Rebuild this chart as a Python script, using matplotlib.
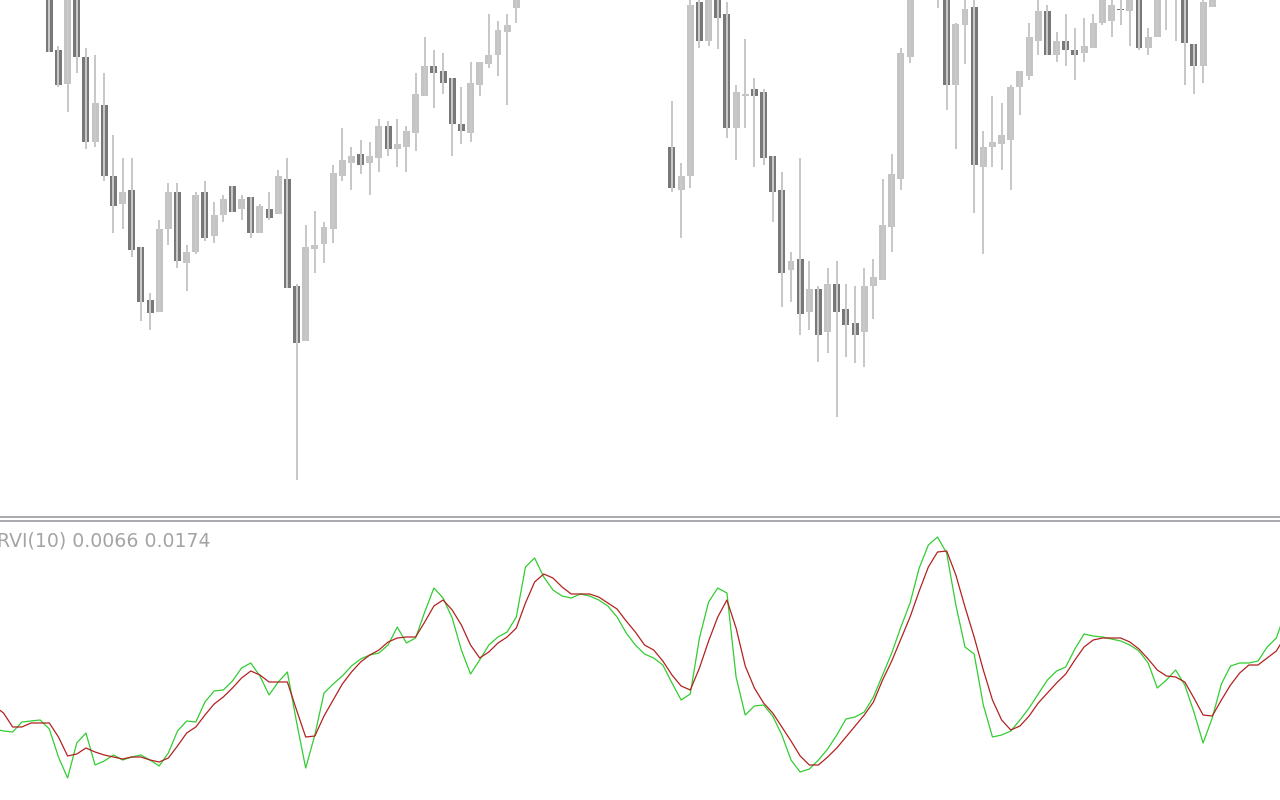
import numpy as np
import matplotlib
matplotlib.use('Agg')
import matplotlib.pyplot as plt
from matplotlib.lines import Line2D

nan = np.nan

# 價格資料 (每根K線: 開/高/低/收), nan = 價格在可視範圍之上
opens = [1.3530, 1.3470, 1.3436, 1.3530, 1.3463, 1.3378, 1.3415, 1.3344, 1.3316, 1.3330,
         1.3273, 1.3220, 1.3208, 1.3291, 1.3328, 1.3257, 1.3268, 1.3328, 1.3284, 1.3305,
         1.3334, 1.3311, 1.3323, 1.3287, 1.3311, 1.3306, 1.3341, 1.3234, 1.3179, 1.3271,
         1.3276, 1.3291, 1.3344, 1.3357, 1.3366, 1.3357, 1.3362, 1.3394, 1.3371, 1.3373,
         1.3387, 1.3424, 1.3454, 1.3449, 1.3442, 1.3396, 1.3387, 1.3435, 1.3456, 1.3465,
         1.3488, 1.3512, nan, nan, nan, nan, nan, nan, nan, nan,
         nan, nan, nan, nan, nan, nan, nan, nan, 1.3373, 1.3330,
         1.3344, 1.3518, 1.3479, 1.3528, 1.3506, 1.3392, 1.3424, 1.3431, 1.3428, 1.3364,
         1.3330, 1.3250, 1.3261, 1.3208, 1.3231, 1.3188, 1.3236, 1.3211, 1.3197, 1.3188,
         1.3234, 1.3240, 1.3293, 1.3341, 1.3463, nan, nan, 1.3532, 1.3528, 1.3435,
         1.3495, 1.3513, 1.3353, 1.3373, 1.3376, 1.3380, 1.3433, 1.3444, 1.3479, 1.3509,
         1.3465, 1.3479, 1.3470, 1.3467, 1.3472, 1.3497, 1.3499, 1.3511, 1.3509, 1.3528,
         1.3472, 1.3483, 1.3532, 1.3534, 1.3528, 1.3476, 1.3454, 1.3513]
highs = [1.3535, 1.3474, 1.3535, 1.3535, 1.3472, 1.3465, 1.3447, 1.3385, 1.3362, 1.3362,
         1.3273, 1.3227, 1.3300, 1.3337, 1.3337, 1.3275, 1.3328, 1.3339, 1.3318, 1.3325,
         1.3334, 1.3325, 1.3323, 1.3316, 1.3328, 1.3350, 1.3362, 1.3236, 1.3295, 1.3309,
         1.3298, 1.3355, 1.3392, 1.3373, 1.3380, 1.3378, 1.3401, 1.3399, 1.3401, 1.3394,
         1.3447, 1.3483, 1.3470, 1.3467, 1.3442, 1.3433, 1.3458, 1.3458, 1.3506, 1.3499,
         1.3506, 1.3535, nan, nan, nan, nan, nan, nan, nan, nan,
         nan, nan, nan, nan, nan, nan, nan, nan, 1.3419, 1.3357,
         1.3525, 1.3525, 1.3532, 1.3532, 1.3518, 1.3435, 1.3481, 1.3442, 1.3431, 1.3364,
         1.3348, 1.3268, 1.3362, 1.3259, 1.3234, 1.3252, 1.3259, 1.3236, 1.3234, 1.3252,
         1.3261, 1.3341, 1.3366, 1.3472, 1.3532, nan, nan, 1.3545, 1.3532, 1.3497,
         1.3525, 1.3523, 1.3389, 1.3424, 1.3417, 1.3435, 1.3449, 1.3497, 1.3523, 1.3515,
         1.3488, 1.3506, 1.3492, 1.3502, 1.3506, 1.3532, 1.3523, 1.3523, 1.3532, 1.3532,
         1.3492, 1.3532, 1.3545, 1.3545, 1.3532, 1.3476, 1.3523, 1.3532]
lows = [1.3468, 1.3433, 1.3408, 1.3447, 1.3371, 1.3373, 1.3339, 1.3287, 1.3291, 1.3263,
        1.3199, 1.3190, 1.3208, 1.3275, 1.3252, 1.3229, 1.3266, 1.3279, 1.3277, 1.3298,
        1.3308, 1.3300, 1.3282, 1.3287, 1.3300, 1.3306, 1.3232, 1.3040, 1.3179, 1.3247,
        1.3257, 1.3277, 1.3339, 1.3330, 1.3346, 1.3325, 1.3348, 1.3364, 1.3353, 1.3348,
        1.3369, 1.3424, 1.3412, 1.3426, 1.3364, 1.3376, 1.3378, 1.3424, 1.3452, 1.3444,
        1.3415, 1.3497, nan, nan, nan, nan, nan, nan, nan, nan,
        nan, nan, nan, nan, nan, nan, nan, nan, 1.3328, 1.3282,
        1.3332, 1.3472, 1.3474, 1.3471, 1.3382, 1.3360, 1.3392, 1.3353, 1.3355, 1.3298,
        1.3213, 1.3218, 1.3185, 1.3190, 1.3158, 1.3167, 1.3103, 1.3163, 1.3157, 1.3153,
        1.3201, 1.3240, 1.3268, 1.3330, 1.3457, nan, nan, 1.3512, 1.3410, 1.3371,
        1.3456, 1.3307, 1.3266, 1.3353, 1.3350, 1.3330, 1.3405, 1.3440, 1.3465, 1.3465,
        1.3458, 1.3454, 1.3440, 1.3458, 1.3472, 1.3495, 1.3483, 1.3495, 1.3474, 1.3470,
        1.3465, 1.3483, 1.3490, 1.3479, 1.3435, 1.3426, 1.3437, 1.3513]
closes = [1.3468, 1.3435, 1.3530, 1.3463, 1.3378, 1.3417, 1.3344, 1.3314, 1.3328, 1.3270,
          1.3218, 1.3207, 1.3291, 1.3328, 1.3259, 1.3268, 1.3325, 1.3282, 1.3305, 1.3321,
          1.3308, 1.3321, 1.3287, 1.3314, 1.3302, 1.3344, 1.3232, 1.3177, 1.3273, 1.3275,
          1.3293, 1.3347, 1.3360, 1.3364, 1.3355, 1.3364, 1.3394, 1.3371, 1.3376, 1.3389,
          1.3426, 1.3454, 1.3447, 1.3437, 1.3396, 1.3389, 1.3437, 1.3458, 1.3465, 1.3490,
          1.3495, 1.3530, nan, nan, nan, nan, nan, nan, nan, nan,
          nan, nan, nan, nan, nan, nan, nan, nan, 1.3332, 1.3344,
          1.3515, 1.3479, 1.3528, 1.3502, 1.3392, 1.3428, 1.3426, 1.3424, 1.3362, 1.3328,
          1.3247, 1.3259, 1.3206, 1.3231, 1.3185, 1.3236, 1.3208, 1.3195, 1.3185, 1.3234,
          1.3243, 1.3295, 1.3346, 1.3467, 1.3528, nan, nan, 1.3540, 1.3435, 1.3496,
          1.3511, 1.3355, 1.3373, 1.3378, 1.3385, 1.3433, 1.3449, 1.3483, 1.3509, 1.3465,
          1.3479, 1.3470, 1.3465, 1.3474, 1.3497, 1.3528, 1.3515, 1.3510, 1.3528, 1.3472,
          1.3483, 1.3528, 1.3538, 1.3540, 1.3477, 1.3454, 1.3518, 1.3528]

# RVI(10): 主線(綠) 與 訊號線(紅), 從第 -6 根K線開始
rvi_start = -6
rvi_main = [-0.069, -0.071, -0.072, -0.062, -0.061, -0.060, -0.069, -0.097, -0.118, -0.083,
            -0.073, -0.105, -0.101, -0.095, -0.100, -0.097, -0.095, -0.100, -0.106, -0.093,
            -0.071, -0.061, -0.062, -0.042, -0.031, -0.030, -0.021, -0.008, -0.003, -0.016,
            -0.035, -0.022, -0.012, -0.062, -0.108, -0.075, -0.033, -0.024, -0.016, -0.006,
            0.001, 0.005, 0.007, 0.015, 0.033, 0.017, 0.022, 0.048, 0.072, 0.062,
            0.042, 0.010, -0.014, 0.000, 0.015, 0.023, 0.028, 0.043, 0.093, 0.102,
            0.083, 0.070, 0.064, 0.062, 0.066, 0.064, 0.060, 0.054, 0.043, 0.027,
            0.015, 0.006, 0.002, -0.005, -0.023, -0.040, -0.034, 0.022, 0.058, 0.072,
            0.067, -0.017, -0.055, -0.046, -0.045, -0.056, -0.075, -0.100, -0.112, -0.109,
            -0.100, -0.089, -0.075, -0.059, -0.057, -0.052, -0.037, -0.015, 0.007, 0.033,
            0.057, 0.092, 0.115, 0.123, 0.107, 0.055, 0.013, 0.006, -0.045, -0.077,
            -0.075, -0.071, -0.060, -0.048, -0.034, -0.020, -0.011, -0.007, 0.011, 0.026,
            0.024, 0.023, 0.021, 0.019, 0.015, 0.009, -0.003, -0.028, -0.020, -0.010,
            -0.025, -0.052, -0.083, -0.058, -0.024, -0.006, -0.003, -0.003, -0.001, 0.013,
            0.022, 0.048]
rvi_signal = [-0.046, -0.053, -0.067, -0.067, -0.063, -0.063, -0.063, -0.077, -0.096, -0.094,
              -0.088, -0.092, -0.095, -0.097, -0.099, -0.097, -0.097, -0.100, -0.102, -0.098,
              -0.086, -0.073, -0.067, -0.055, -0.044, -0.037, -0.028, -0.018, -0.011, -0.015,
              -0.022, -0.022, -0.022, -0.050, -0.077, -0.076, -0.056, -0.040, -0.024, -0.012,
              -0.002, 0.005, 0.010, 0.018, 0.022, 0.023, 0.023, 0.038, 0.054, 0.060,
              0.050, 0.035, 0.015, 0.002, 0.008, 0.017, 0.023, 0.032, 0.057, 0.078,
              0.086, 0.082, 0.073, 0.066, 0.066, 0.066, 0.063, 0.057, 0.051, 0.039,
              0.028, 0.015, 0.010, -0.001, -0.015, -0.026, -0.030, -0.008, 0.019, 0.043,
              0.060, 0.032, -0.006, -0.028, -0.043, -0.053, -0.067, -0.081, -0.096, -0.105,
              -0.105, -0.097, -0.088, -0.077, -0.066, -0.055, -0.042, -0.020, -0.001, 0.021,
              0.043, 0.069, 0.093, 0.108, 0.109, 0.085, 0.053, 0.023, -0.010, -0.040,
              -0.060, -0.070, -0.066, -0.056, -0.043, -0.033, -0.023, -0.014, 0.000, 0.013,
              0.020, 0.022, 0.022, 0.022, 0.018, 0.011, 0.001, -0.010, -0.016, -0.017,
              -0.022, -0.038, -0.055, -0.056, -0.040, -0.025, -0.013, -0.005, -0.005, 0.002,
              0.009, 0.024]

# 建立圖形: 上方K線, 下方RVI
fig = plt.figure(figsize=(12.8, 8), dpi=100)
ax1 = fig.add_axes([0, 284 / 800, 1, 516 / 800])
ax2 = fig.add_axes([0, 0, 1, 279 / 800])

o = np.array(opens)
h = np.array(highs)
l = np.array(lows)
c = np.array(closes)
idx = np.arange(len(o))
ok = ~np.isnan(o)
body_col = np.where(c >= o, '#c4c4c4', '#787878')

ax1.vlines(idx[ok], l[ok], h[ok], color='#c8c8c8', lw=1.4, antialiased=False)
ax1.bar(idx[ok], (c - o)[ok], bottom=o[ok], width=0.76, color=body_col[ok],
        linewidth=0, antialiased=False)
ax1.set_xlim(-5.384, 134.4)
ax1.set_ylim(1.3004, 1.3520)
ax1.set_axis_off()

ridx = np.arange(rvi_start, rvi_start + len(rvi_main))
ax2.plot(ridx, rvi_main, color='#32cd32', lw=0.9)
ax2.plot(ridx, rvi_signal, color='#b22222', lw=0.9)
ax2.set_xlim(-5.384, 134.4)
ax2.set_ylim(-0.140, 0.139)
ax2.set_axis_off()

# 視窗分隔線
for yy in (517, 521):
    fig.add_artist(Line2D([0, 1], [1 - yy / 800, 1 - yy / 800], transform=fig.transFigure,
                          color='#9a9a9e', lw=1.2))

# 指標名稱 (左側 R 字被視窗邊緣切掉一點)
fig.text(-3 / 1280, 1 - 541 / 800, 'RVI(10) 0.0066 0.0174', color='#a4a4a4',
         fontsize=13.6, va='center', ha='left')

fig.savefig('out.png', dpi=100)
